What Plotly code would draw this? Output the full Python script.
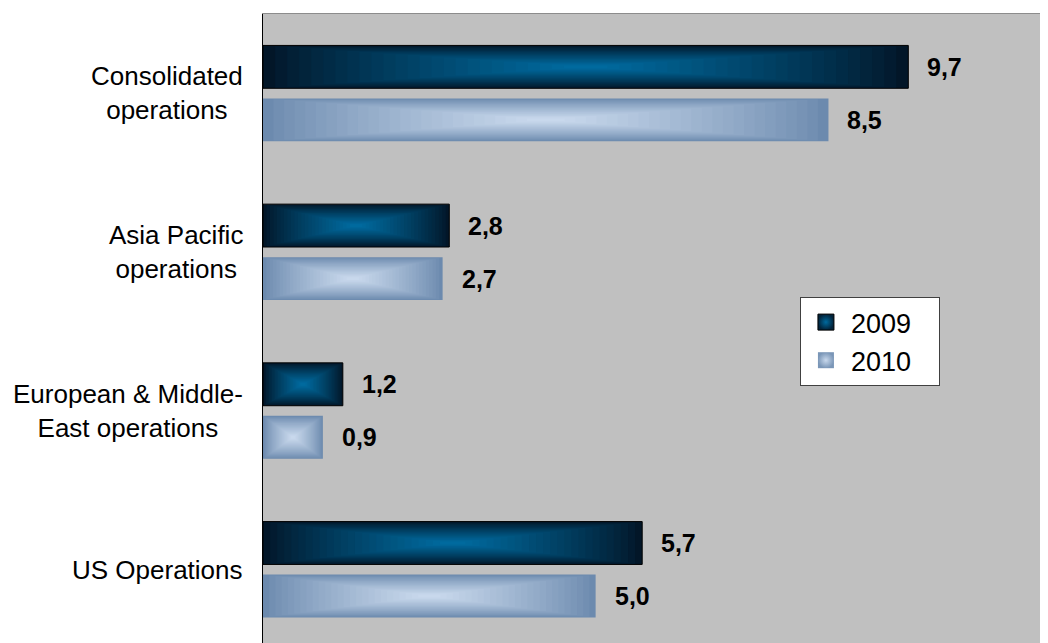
import plotly.graph_objects as go

# ---- data ----
categories = ["Consolidated<br>operations", "Asia Pacific<br>operations",
              "European & Middle-<br>East operations", "US Operations"]
series_names = ["2009", "2010"]
values_2009 = [9.7, 2.8, 1.2, 5.7]
values_2010 = [8.5, 2.7, 0.9, 5.0]

# ---- style ----
FONT = "Arial, Liberation Sans, sans-serif"
edge_colors = {"2009": (2, 22, 40), "2010": (108, 138, 174)}
center_colors = {"2009": (0, 106, 158), "2010": (200, 216, 236)}
offsets = {"2009": -0.167, "2010": 0.167}
BAR_H = 0.27
N_LAYERS = 26
LEGEND_PAD = "\u00a0" * 3  # right padding inside the legend box

def mix(c1, c2, f):
    return "rgb(%d,%d,%d)" % tuple(round(a + (b - a) * f) for a, b in zip(c1, c2))

fig = go.Figure()

# legend entries (square swatches with centre-light gradient)
for name in series_names:
    fig.add_trace(go.Scatter(
        x=[None], y=[None], mode="markers", name=name + LEGEND_PAD,
        marker=dict(symbol="square", size=16,
                    color=mix(edge_colors[name], center_colors[name], 0.15),
                    gradient=dict(type="radial", color=mix(edge_colors[name], center_colors[name], 1.0)),
                    line=dict(color="black" if name == "2009" else "rgba(0,0,0,0)", width=1)),
        showlegend=True, hoverinfo="skip"))

series_vals = {"2009": values_2009, "2010": values_2010}
for name in series_names:
    vals = series_vals[name]
    ypos = [i + offsets[name] for i in range(len(categories))]
    for k in range(N_LAYERS):
        t = k / N_LAYERS * 0.97
        f = (k / (N_LAYERS - 1)) ** 0.85
        col = mix(edge_colors[name], center_colors[name], f)
        line = dict(color="black", width=1) if (k == 0 and name == "2009") else dict(width=0)
        fig.add_trace(go.Bar(
            x=[v * (1 - t) for v in vals],
            base=[v * t / 2 for v in vals],
            y=ypos,
            width=BAR_H * (1 - t),
            orientation="h",
            marker=dict(color=col, line=line),
            showlegend=False,
            hoverinfo="skip" if k else "x",
            name=name,
        ))

annotations = []
# value labels
for name in series_names:
    for i, v in enumerate(series_vals[name]):
        annotations.append(dict(
            x=v, y=i + offsets[name], xref="x", yref="y",
            text="<b>" + f"{v:.1f}".replace(".", ",") + "</b>",
            showarrow=False, xanchor="left", yanchor="middle", xshift=17,
            font=dict(family=FONT, size=25, color="black")))
# category labels
for i, c in enumerate(categories):
    annotations.append(dict(
        x=0, y=i, xref="paper", yref="y", text=c, showarrow=False,
        xanchor="right", yanchor="middle", align="center", xshift=-18,
        font=dict(family=FONT, size=26, color="black")))

fig.update_layout(
    width=1040, height=635,
    margin=dict(l=255, r=0, t=6, b=0),
    paper_bgcolor="white", plot_bgcolor="#C0C0C0",
    barmode="overlay",
    font=dict(family=FONT, size=26, color="black"),
    annotations=annotations,
    legend=dict(x=0.684, y=0.55, xanchor="left", yanchor="top",
                bgcolor="white", bordercolor="#404040", borderwidth=1,
                font=dict(family=FONT, size=27, color="black"),
                itemwidth=40,
                traceorder="normal", tracegroupgap=0),
    showlegend=True,
)
fig.update_xaxes(range=[0, 11.8], showgrid=False, zeroline=False, showticklabels=False,
                 ticks="", showline=True, mirror=True, linecolor="#8c8c8c", linewidth=1)
fig.update_yaxes(range=[3.463, -0.5], showgrid=False, zeroline=False, showticklabels=False,
                 ticks="", showline=True, linecolor="black", linewidth=1)

fig.write_html("out.html")
